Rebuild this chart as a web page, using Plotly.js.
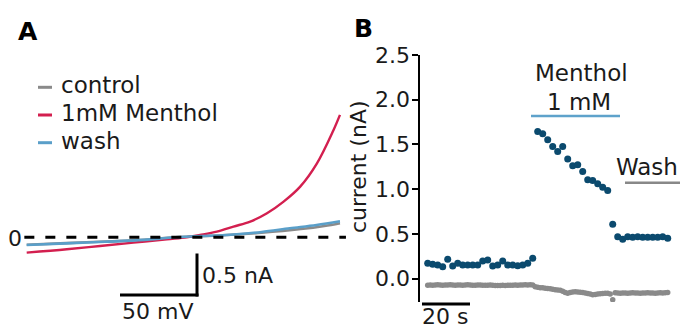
<!DOCTYPE html>
<html>
<head>
<meta charset="utf-8">
<script src="https://cdn.plot.ly/plotly-3.0.1.min.js"></script>
<style>html,body{margin:0;padding:0;background:#fff;}#chart{width:684px;height:329px;}</style>
</head>
<body>
<div id="chart"></div>
<script>
// ---------- Panel A: I-V ramps (mV, nA) ----------
const ivVoltageControl = [-100, -75, -50, -25, -5, 25, 50, 75, 90, 100];
const ivCurrentControl = [-0.092, -0.072, -0.052, -0.030, 0.0, 0.024, 0.055, 0.100, 0.138, 0.172];
const ivVoltageWash = [-100, -75, -50, -25, -5, 25, 36, 50, 68, 85, 100];
const ivCurrentWash = [-0.095, -0.075, -0.055, -0.032, 0.0, 0.025, 0.040, 0.065, 0.110, 0.150, 0.195];
const ivVoltageMenthol = [-100, -74.4, -53.2, -31.9, -10.5, 2.2, 10.7, 21.4, 32.0, 42.7, 53.4, 64.0, 74.6, 85.3, 95.9, 100];
const ivCurrentMenthol = [-0.187, -0.146, -0.106, -0.065, -0.024, 0.0, 0.028, 0.069, 0.130, 0.191, 0.293, 0.435, 0.618, 0.902, 1.309, 1.492];
const legendLabels = ["control", "1mM Menthol", "wash"];

// ---------- Panel B: current over time (nA), uniformly sampled ----------
const sampleIntervalOutward = 2.1;   // s between dark dots
const sampleIntervalInward = 1.05;   // s between grey dots
const outwardCurrent = [
  0.172, 0.161, 0.153, 0.134, 0.217, 0.142, 0.172, 0.153, 0.153, 0.153,
  0.153, 0.198, 0.209, 0.142, 0.153, 0.198, 0.153, 0.153, 0.146, 0.153,
  0.172, 0.228,
  1.646, 1.620, 1.553, 1.478, 1.422, 1.478, 1.337, 1.262, 1.273, 1.198,
  1.105, 1.097, 1.060, 1.023, 0.985,
  0.609, 0.470, 0.441, 0.470, 0.463, 0.470, 0.463, 0.463, 0.463, 0.463,
  0.470, 0.452
];
const inwardCurrent = [
  -0.072,-0.070,-0.072,-0.070,-0.068,-0.070,-0.072,-0.070,-0.070,-0.068,
  -0.070,-0.072,-0.070,-0.070,-0.072,-0.070,-0.068,-0.070,-0.072,-0.072,
  -0.070,-0.070,-0.072,-0.074,-0.072,-0.070,-0.072,-0.075,-0.077,-0.075,
  -0.074,-0.075,-0.074,-0.072,-0.072,-0.070,-0.072,-0.070,-0.070,-0.068,
  -0.070,-0.068,-0.070,
  -0.090,-0.095,-0.100,-0.102,-0.105,-0.108,-0.112,-0.118,-0.122,-0.127,
  -0.130,-0.140,-0.155,-0.162,-0.155,-0.148,-0.145,-0.147,-0.150,-0.155,
  -0.160,-0.165,-0.172,-0.178,-0.175,-0.170,-0.168,-0.165,-0.163,-0.163,
  -0.170,
  -0.235,
  -0.158,-0.160,-0.162,-0.160,-0.160,-0.162,-0.160,-0.158,-0.160,-0.160,
  -0.162,-0.160,-0.160,-0.158,-0.160,-0.160,-0.162,-0.160,-0.158,-0.160,
  -0.158,-0.155
];
const yTickVals = [0, 0.5, 1.0, 1.5, 2.0, 2.5];
const yTickText = ["0.0", "0.5", "1.0", "1.5", "2.0", "2.5"];

// ---------- styling ----------
const W = 684, H = 329;
const px = x => x / W;
const py = y => 1 - y / H;
const FONT = "DejaVu Sans";
const TXT = "#1a1a1a";
const C_CONTROL = "#8a8a8a", C_MENTHOL = "#d31f4f", C_WASH = "#5a9fc9";
const C_DOT = "#0b4a6e", C_DOT2 = "#8a8a8a";

const traces = [
  {x: ivVoltageControl, y: ivCurrentControl, mode: "lines", line: {color: C_CONTROL, width: 2.6, shape: "spline"}, xaxis: "x", yaxis: "y", name: legendLabels[0]},
  {x: ivVoltageMenthol, y: ivCurrentMenthol, mode: "lines", line: {color: C_MENTHOL, width: 2.4, shape: "spline"}, xaxis: "x", yaxis: "y", name: legendLabels[1]},
  {x: ivVoltageWash, y: ivCurrentWash, mode: "lines", line: {color: C_WASH, width: 2.6, shape: "spline"}, xaxis: "x", yaxis: "y", name: legendLabels[2]},
  {y: inwardCurrent, x0: 0, dx: sampleIntervalInward, mode: "markers", marker: {color: C_DOT2, size: 5.5}, xaxis: "x2", yaxis: "y2"},
  {y: outwardCurrent, x0: 0, dx: sampleIntervalOutward, mode: "markers", marker: {color: C_DOT, size: 7}, xaxis: "x2", yaxis: "y2"}
];

function ann(text, x, y, opts) {
  return Object.assign({text: text, x: px(x), y: py(y), xref: "paper", yref: "paper", showarrow: false,
    xanchor: "center", yanchor: "middle", font: {family: FONT, size: 22, color: TXT}}, opts || {});
}
function hline(x0, x1, y, color, width, dash) {
  return {type: "line", xref: "paper", yref: "paper", x0: px(x0), x1: px(x1), y0: py(y), y1: py(y),
    line: {color: color, width: width, dash: dash || "solid"}};
}
function vline(x, y0, y1, color, width) {
  return {type: "line", xref: "paper", yref: "paper", x0: px(x), x1: px(x), y0: py(y0), y1: py(y1),
    line: {color: color, width: width}};
}

const layout = {
  width: W, height: H,
  margin: {l: 0, r: 0, t: 0, b: 0},
  paper_bgcolor: "#fff", plot_bgcolor: "rgba(0,0,0,0)",
  showlegend: false,
  xaxis: {domain: [px(24), px(346)], range: [-101.72, 103.84], visible: false, fixedrange: true},
  yaxis: {domain: [py(300), py(100)], range: [-0.765, 1.674], visible: false, fixedrange: true},
  xaxis2: {domain: [px(420), 1], range: [-3.234, 107.64], visible: false, anchor: "y2", fixedrange: true},
  yaxis2: {domain: [py(302), py(55)], range: [-0.26, 2.5], anchor: "x2",
    showline: true, linecolor: "#000", linewidth: 2.5, ticks: "outside", ticklen: 6, tickwidth: 2, tickcolor: "#000",
    ticklabelstandoff: -3,
    tickvals: yTickVals, ticktext: yTickText, showgrid: false, zeroline: false,
    tickfont: {family: FONT, size: 22, color: TXT}, fixedrange: true},
  shapes: [
    {type: "line", xref: "x", yref: "y", x0: -101.5, x1: 103.8, y0: 0, y1: 0, line: {color: "#000", width: 3, dash: "10px,11px"}},
    vline(197, 253.5, 296.5, "#000", 3),
    hline(120, 198.5, 295, "#000", 3),
    hline(422, 470, 304, "#000", 3),
    hline(531, 620, 116, "#5ea2cb", 2.5),
    hline(625, 680, 182.7, "#888888", 2.5),
    hline(38, 52, 87.3, C_CONTROL, 3),
    hline(38, 52, 115, C_MENTHOL, 3),
    hline(38, 52, 142.7, C_WASH, 3)
  ],
  annotations: [
    ann("<b>A</b>", 27.5, 31, {font: {family: FONT, size: 25, color: "#000"}}),
    ann("<b>B</b>", 363.5, 29, {font: {family: FONT, size: 25, color: "#000"}}),
    ann(legendLabels[0], 59, 85, {xanchor: "left", font: {family: FONT, size: 23, color: TXT}}),
    ann(legendLabels[1], 59, 113, {xanchor: "left", font: {family: FONT, size: 23, color: TXT}}),
    ann(legendLabels[2], 59, 141, {xanchor: "left", font: {family: FONT, size: 23, color: TXT}}),
    ann("0", 15, 238),
    ann("0.5 nA", 200, 275, {xanchor: "left"}),
    ann("50 mV", 157.5, 311),
    ann("current (nA)", 358, 167, {textangle: -90}),
    ann("Menthol", 581.5, 73, {font: {family: FONT, size: 23, color: TXT}}),
    ann("1 mM", 579, 101.7, {font: {family: FONT, size: 23, color: TXT}}),
    ann("Wash", 647, 166.7, {font: {family: FONT, size: 23, color: TXT}}),
    ann("20 s", 445, 316)
  ]
};

Plotly.newPlot("chart", traces, layout, {staticPlot: true, displayModeBar: false});
</script>
</body>
</html>
